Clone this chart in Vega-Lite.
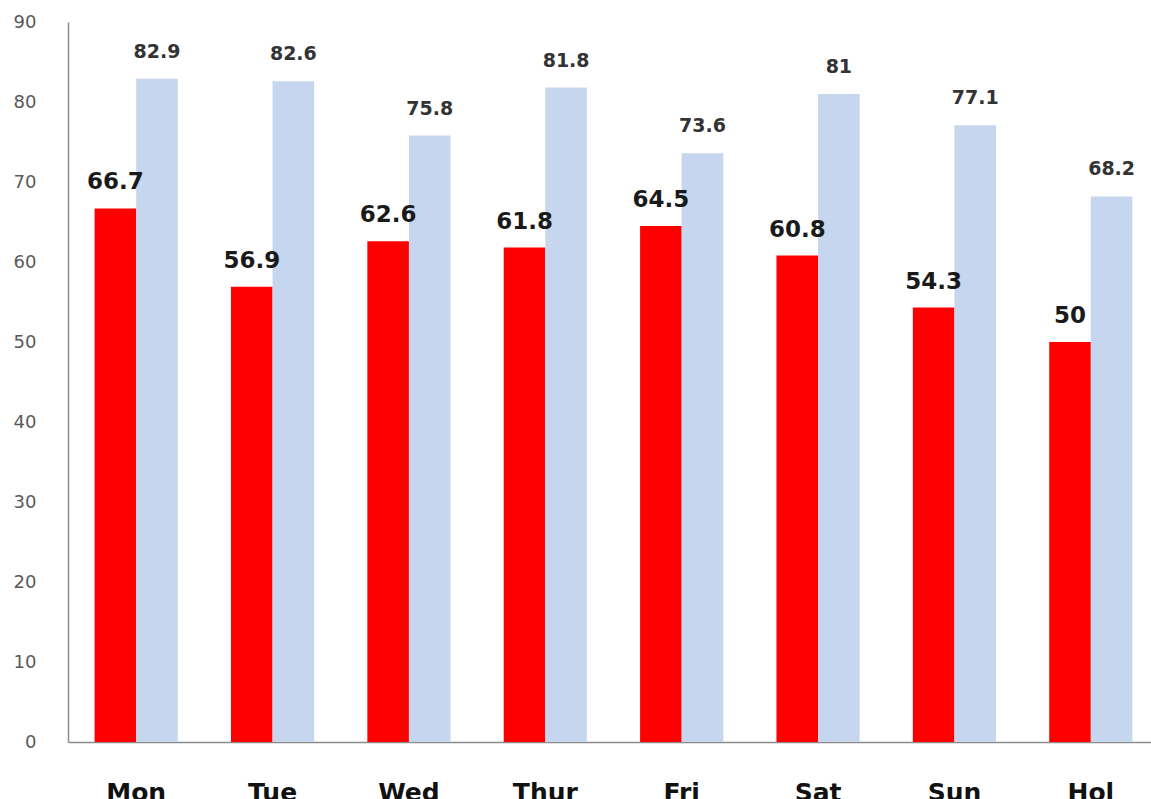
{
  "$schema": "https://vega.github.io/schema/vega-lite/v6.json",
  "width": 1091,
  "height": 720,
  "autosize": {"type": "none"},
  "padding": {"left": 68, "top": 22, "right": 0, "bottom": 57},
  "background": "white",
  "config": {"view": {"stroke": null}, "font": "DejaVu Sans"},
  "data": {
    "values": [
      {"day": "Mon", "s": "A", "v": 66.7}, {"day": "Mon", "s": "B", "v": 82.9},
      {"day": "Tue", "s": "A", "v": 56.9}, {"day": "Tue", "s": "B", "v": 82.6},
      {"day": "Wed", "s": "A", "v": 62.6}, {"day": "Wed", "s": "B", "v": 75.8},
      {"day": "Thur", "s": "A", "v": 61.8}, {"day": "Thur", "s": "B", "v": 81.8},
      {"day": "Fri", "s": "A", "v": 64.5}, {"day": "Fri", "s": "B", "v": 73.6},
      {"day": "Sat", "s": "A", "v": 60.8}, {"day": "Sat", "s": "B", "v": 81},
      {"day": "Sun", "s": "A", "v": 54.3}, {"day": "Sun", "s": "B", "v": 77.1},
      {"day": "Hol", "s": "A", "v": 50}, {"day": "Hol", "s": "B", "v": 68.2}
    ]
  },
  "encoding": {
    "x": {
      "field": "day", "type": "nominal", "sort": null,
      "scale": {"paddingInner": 0.39, "paddingOuter": 0.195},
      "axis": {"title": null, "domain": true, "domainColor": "#8c8c8c", "domainWidth": 1.5, "ticks": false,
               "labelAngle": 0, "labelFontSize": 25, "labelFontWeight": "bold", "labelColor": "#111111",
               "labelPadding": 38, "labelFont": "DejaVu Sans"}
    },
    "xOffset": {"field": "s", "type": "nominal", "scale": {"paddingInner": 0, "paddingOuter": 0}},
    "y": {
      "field": "v", "type": "quantitative",
      "scale": {"domain": [0, 90], "nice": false},
      "axis": {"title": null, "values": [0,10,20,30,40,50,60,70,80,90], "grid": false, "ticks": false,
               "domain": true, "domainColor": "#8c8c8c", "domainWidth": 1.5,
               "labelFontSize": 18, "labelColor": "#595959", "labelPadding": 32, "labelFont": "DejaVu Sans"}
    }
  },
  "layer": [
    {
      "mark": {"type": "bar"},
      "encoding": {
        "color": {"field": "s", "type": "nominal", "legend": null,
                  "scale": {"domain": ["A", "B"], "range": ["#ff0000", "#c5d6ee"]}}
      }
    },
    {
      "transform": [{"filter": "datum.s === 'A'"}],
      "mark": {"type": "text", "baseline": "alphabetic", "dy": -19, "fontSize": 23, "fontWeight": "bold", "color": "#1a1a1a", "font": "DejaVu Sans"},
      "encoding": {"text": {"field": "v", "type": "quantitative"}}
    },
    {
      "transform": [{"filter": "datum.s === 'B'"}],
      "mark": {"type": "text", "baseline": "alphabetic", "dy": -21, "fontSize": 19, "fontWeight": "bold", "color": "#333333", "font": "DejaVu Sans"},
      "encoding": {"text": {"field": "v", "type": "quantitative"}}
    }
  ]
}
